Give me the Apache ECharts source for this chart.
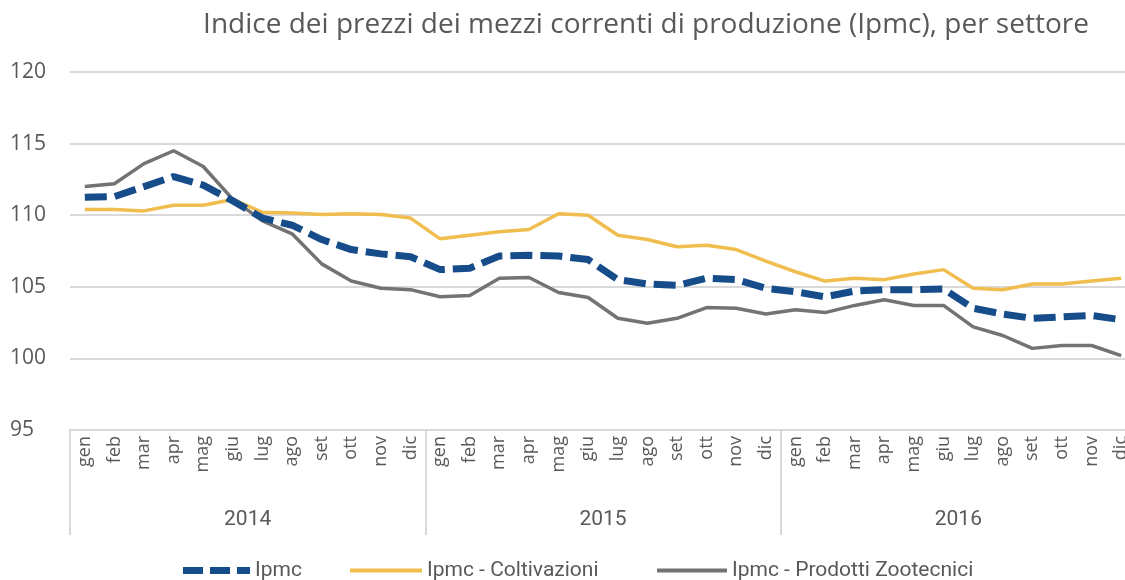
<!DOCTYPE html>
<html>
<head>
<meta charset="utf-8">
<script src="https://cdn.jsdelivr.net/npm/echarts@6/dist/echarts.min.js"></script>
<style>
  html, body { margin: 0; padding: 0; background: #fff; }
  #chart { width: 1125px; height: 580px; }
</style>
</head>
<body>
<div id="chart"></div>
<script>
// mesi e anni dell'asse x
var mesi = ['gen', 'feb', 'mar', 'apr', 'mag', 'giu', 'lug', 'ago', 'set', 'ott', 'nov', 'dic'];
var anni = ['2014', '2015', '2016'];

var ipmc = [
    111.25, 111.3, 112.0, 112.7, 112.1, 111.0, 109.8, 109.3, 108.3, 107.6, 107.3, 107.1,
    106.2, 106.3, 107.15, 107.2, 107.15, 106.9, 105.5, 105.2, 105.1, 105.6, 105.5, 104.9,
    104.65, 104.3, 104.7, 104.8, 104.8, 104.85, 103.5, 103.1, 102.8, 102.9, 103.0, 102.7
];
var coltivazioni = [
    110.4, 110.4, 110.3, 110.7, 110.7, 111.1, 110.2, 110.15, 110.05, 110.1, 110.05, 109.8,
    108.35, 108.6, 108.85, 109.0, 110.1, 110.0, 108.6, 108.3, 107.8, 107.9, 107.6, 106.8,
    106.05, 105.4, 105.6, 105.5, 105.9, 106.2, 104.9, 104.8, 105.2, 105.2, 105.4, 105.6
];
var zootecnici = [
    112.0, 112.2, 113.6, 114.5, 113.4, 111.1, 109.6, 108.7, 106.6, 105.4, 104.9, 104.8,
    104.3, 104.4, 105.6, 105.65, 104.6, 104.25, 102.8, 102.45, 102.8, 103.55, 103.5, 103.1,
    103.4, 103.2, 103.7, 104.1, 103.7, 103.7, 102.2, 101.6, 100.7, 100.9, 100.9, 100.2
];

var categorie = [];
anni.forEach(function (a) {
    mesi.forEach(function (m) { categorie.push(m + ' ' + a); });
});

var chart = echarts.init(document.getElementById('chart'), null, {renderer: 'canvas'});

var grigio = '#595959';
var legendText = {fontFamily: 'Roboto', fontSize: 21, color: grigio};

// una legenda per voce, per poter piazzare le icone come nell'originale
function legenda(nome, left, icon, w, h) {
    return {
        left: left,
        top: 555,
        itemWidth: w,
        itemHeight: h,
        itemGap: 0,
        icon: icon,
        textStyle: legendText,
        data: [nome]
    };
}

var option = {
    backgroundColor: '#fff',
    animation: false,
    title: {
        text: 'Indice dei prezzi dei mezzi correnti di produzione (Ipmc), per settore',
        left: 641,
        textAlign: 'center',
        top: 6,
        textStyle: {
            fontFamily: 'Open Sans',
            fontWeight: 'normal',
            fontSize: 28,
            color: grigio
        }
    },
    legend: [
        legenda('Ipmc', 178, 'path://M0,0H20V7H0Z M27,0H47V7H27Z M54,0H67V7H54Z', 67, 7),
        legenda('Ipmc - Coltivazioni', 345, 'rect', 72, 4),
        legenda('Ipmc - Prodotti Zootecnici', 652, 'rect', 70, 4)
    ],
    grid: {
        left: 70,
        top: 72,
        width: 1066,
        height: 358,
        outerBoundsMode: 'none',
        containLabel: false
    },
    xAxis: [
        {
            type: 'category',
            data: categorie,
            boundaryGap: true,
            axisLine: {lineStyle: {color: '#d9d9d9', width: 2}},
            axisTick: {show: false},
            axisLabel: {
                interval: 0,
                rotate: 90,
                margin: 6,
                fontFamily: 'Open Sans',
                fontSize: 18,
                color: grigio,
                formatter: function (v) { return v.split(' ')[0]; }
            }
        },
        {
            type: 'category',
            data: anni,
            position: 'bottom',
            boundaryGap: true,
            axisLine: {show: false},
            axisTick: {show: true, length: 105, lineStyle: {color: '#d9d9d9', width: 2}},
            axisLabel: {
                margin: 79,
                fontFamily: 'Roboto',
                fontSize: 21,
                color: grigio
            }
        }
    ],
    yAxis: {
        type: 'value',
        min: 95,
        max: 120,
        interval: 5,
        axisLine: {show: false},
        axisTick: {show: false},
        splitLine: {lineStyle: {color: '#d9d9d9', width: 2}},
        axisLabel: {
            margin: 60,
            align: 'left',
            fontFamily: 'Open Sans',
            fontSize: 21,
            color: grigio
        }
    },
    series: [
        {
            name: 'Ipmc',
            type: 'line',
            xAxisIndex: 0,
            data: ipmc,
            showSymbol: false,
            symbol: 'none',
            z: 4,
            itemStyle: {color: '#154c89'},
            lineStyle: {color: '#154c89', width: 7, type: [22, 8]}
        },
        {
            name: 'Ipmc - Coltivazioni',
            type: 'line',
            xAxisIndex: 0,
            data: coltivazioni,
            showSymbol: false,
            symbol: 'none',
            z: 3,
            itemStyle: {color: '#f0bd4f'},
            lineStyle: {color: '#f0bd4f', width: 3.5}
        },
        {
            name: 'Ipmc - Prodotti Zootecnici',
            type: 'line',
            xAxisIndex: 0,
            data: zootecnici,
            showSymbol: false,
            symbol: 'none',
            z: 2,
            itemStyle: {color: '#737373'},
            lineStyle: {color: '#737373', width: 3.5}
        }
    ]
};
chart.setOption(option);
</script>
</body>
</html>
